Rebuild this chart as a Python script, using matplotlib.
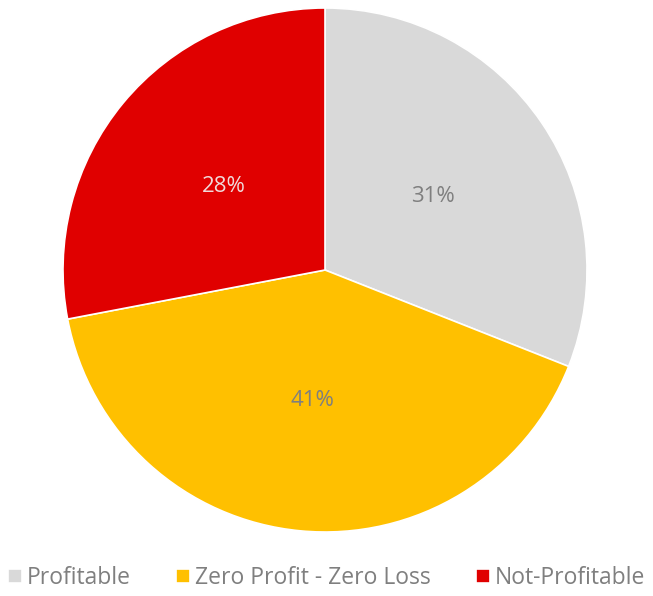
import matplotlib.pyplot as plt

labels = ['Profitable', 'Zero Profit - Zero Loss', 'Not-Profitable']
shares = [31, 41, 28]
colors = ['#d9d9d9', '#ffc000', '#e00000']
text_colors = ['#7f7f7f', '#7f7f7f', '#f0dada']

plt.rcParams['font.family'] = ['Open Sans', 'DejaVu Sans']

fig = plt.figure(figsize=(6.53, 5.96), dpi=100)
W, H = 653, 596
cx, cy, r = 325, 270, 262
ax = fig.add_axes([(cx - r) / W, (H - cy - r) / H, 2 * r / W, 2 * r / H])

wedges, texts, autotexts = ax.pie(
    shares, colors=colors, startangle=90, counterclock=False,
    autopct='%d%%', pctdistance=0.5,
    wedgeprops=dict(edgecolor='white', linewidth=1.2),
    textprops=dict(fontsize=16),
)
for t, c in zip(autotexts, text_colors):
    t.set_color(c)
ax.set_aspect('equal')
ax.set_xlim(-1, 1)
ax.set_ylim(-1, 1)

fig.legend(wedges, labels, loc='lower center', ncol=3, frameon=False,
           bbox_to_anchor=(0.5, -0.025), fontsize=16.5, handlelength=0.6,
           handleheight=0.6, handletextpad=0.2, columnspacing=2.0,
           labelcolor='#7f7f7f')

fig.savefig('out.png', dpi=100)
